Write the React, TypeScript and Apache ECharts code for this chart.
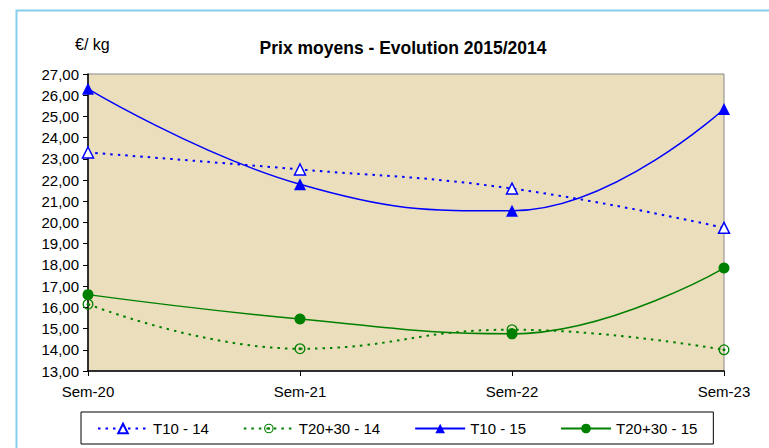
import React, { useEffect, useRef } from "react";
import * as echarts from "echarts";

const categories = ["Sem-20", "Sem-21", "Sem-22", "Sem-23"];
const t10_14 = [23.3, 22.5, 21.6, 19.75];
const t2030_14 = [16.15, 14.05, 14.95, 14.0];
const t10_15 = [26.3, 21.8, 20.55, 25.35];
const t2030_15 = [16.6, 15.45, 14.75, 17.85];
const seriesNames = ["T10 - 14", "T20+30 - 14", "T10 - 15", "T20+30 - 15"];

const FONT = "'Liberation Sans', Arial, sans-serif";
const BLUE = "#0000ff";
const GREEN = "#008000";
const ringDot =
  "path://M0,-10 A10,10 0 1,1 0,10 A10,10 0 1,1 0,-10 Z M0,-7.6 A7.6,7.6 0 1,0 0,7.6 A7.6,7.6 0 1,0 0,-7.6 Z M0,-2.8 A2.8,2.8 0 1,1 0,2.8 A2.8,2.8 0 1,1 0,-2.8 Z";

export default function App() {
  const ref = useRef<HTMLDivElement>(null);
  useEffect(() => {
    if (!ref.current) return;
    const chart = echarts.init(ref.current, undefined, { renderer: "svg" });
    chart.setOption({
      animation: false,
      backgroundColor: "#ffffff",
      textStyle: { fontFamily: FONT },
      title: {
        text: "Prix moyens - Evolution 2015/2014",
        left: 398,
        textAlign: "center",
        top: 34,
        textStyle: { fontSize: 17.5, fontWeight: "bold", color: "#000", fontFamily: FONT },
      },
      graphic: [
        {
          type: "rect",
          shape: { x: 16.5, y: 10.5, width: 900, height: 600 },
          style: { fill: "none", stroke: "#87cdee", lineWidth: 2 },
          silent: true,
          z: 100,
        },
        {
          type: "text",
          x: 75,
          y: 36,
          style: { text: "€/ kg", fontSize: 16, fill: "#000", fontFamily: FONT },
        },
      ],
      legend: {
        data: seriesNames,
        left: 81,
        top: 412,
        padding: [9, 16, 8, 16],
        itemWidth: 50,
        itemHeight: 12,
        itemGap: 34,
        borderColor: "#000",
        borderWidth: 1,
        textStyle: { fontSize: 15, color: "#000", fontFamily: FONT },
      },
      grid: {
        left: 88,
        right: 45,
        top: 74,
        bottom: 77,
        show: true,
        backgroundColor: "#ebdebc",
        borderColor: "#888888",
        borderWidth: 1,
      },
      xAxis: {
        type: "category",
        data: categories,
        boundaryGap: false,
        axisLine: { lineStyle: { color: "#000", width: 1.5 } },
        axisTick: { show: true, length: 5, lineStyle: { color: "#000" } },
        axisLabel: { fontSize: 15, color: "#000", margin: 13, fontFamily: FONT },
        splitLine: { show: false },
      },
      yAxis: {
        type: "value",
        min: 13,
        max: 27,
        interval: 1,
        axisLine: { show: true, lineStyle: { color: "#000", width: 1.5 } },
        axisTick: { show: true, length: 5, lineStyle: { color: "#000" } },
        axisLabel: {
          fontSize: 15,
          color: "#000",
          margin: 9,
          fontFamily: FONT,
          formatter: (v: number) => v.toFixed(2).replace(".", ","),
        },
        splitLine: { show: false },
      },
      series: [
        {
          name: seriesNames[0],
          type: "line",
          data: t10_14,
          smooth: 0.45,
          symbol: "triangle",
          symbolSize: 11,
          lineStyle: { color: BLUE, width: 2, type: [2.5, 5] },
          itemStyle: { color: "#ffffff", borderColor: BLUE, borderWidth: 1.5 },
          z: 3,
        },
        {
          name: seriesNames[1],
          type: "line",
          data: t2030_14,
          smooth: 0.45,
          symbol: ringDot,
          symbolSize: 11,
          symbolKeepAspect: true,
          lineStyle: { color: GREEN, width: 2, type: [2.5, 5] },
          itemStyle: { color: GREEN },
          z: 3,
        },
        {
          name: seriesNames[2],
          type: "line",
          data: t10_15,
          smooth: 0.45,
          symbol: "triangle",
          symbolSize: 12,
          lineStyle: { color: BLUE, width: 1.5 },
          itemStyle: { color: BLUE },
          z: 4,
        },
        {
          name: seriesNames[3],
          type: "line",
          data: t2030_15,
          smooth: 0.45,
          symbol: "circle",
          symbolSize: 11,
          lineStyle: { color: GREEN, width: 1.5 },
          itemStyle: { color: GREEN },
          z: 4,
        },
      ],
    });
    return () => chart.dispose();
  }, []);
  return (
    <div
      ref={ref}
      style={{ position: "fixed", left: 0, top: 0, width: 769, height: 448 }}
    />
  );
}
